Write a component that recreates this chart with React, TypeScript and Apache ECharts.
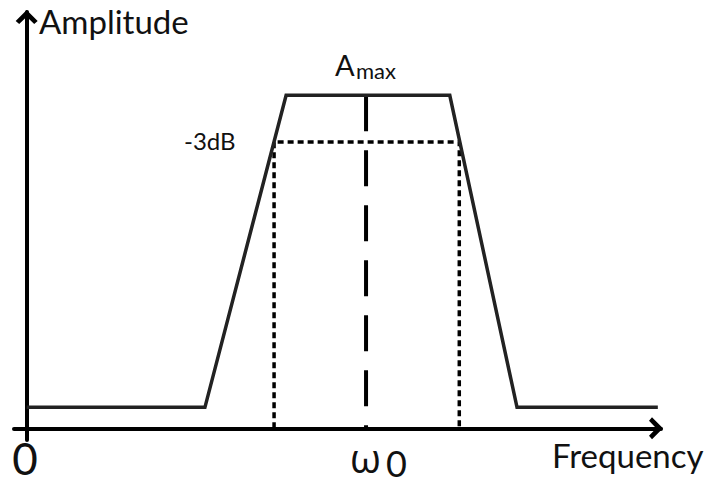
import React, { useEffect, useRef } from "react";
import * as echarts from "echarts";

// Frequency (arbitrary units) and amplitude (relative to A_max) of the band-pass response
const responseFreq = [0, 28.1, 40.9, 66.7, 77.3, 99.5];
const responseAmp = [0.063, 0.063, 1.0, 1.0, 0.063, 0.063];

// -3 dB band edges
const bandFreq = [39.0, 39.0, 68.2, 68.2];
const bandAmp = [0, 0.86, 0.86, 0];

// centre frequency marker
const centerFreq = [53.5, 53.5];
const centerAmp = [1.0, 0];

const FONT = "Lato, 'Open Sans', sans-serif";
const GREEK = "'Open Sans', 'Noto Sans', sans-serif";
const ARROW = "path://M0,11 L11,0 L22,11 L18.5,14 L11,6.8 L3.5,14 Z";

export default function App() {
  const ref = useRef<HTMLDivElement>(null);
  useEffect(() => {
    if (!ref.current) return;
    const chart = echarts.init(ref.current, null, { renderer: "svg" });
    const zip = (a: number[], b: number[]) => a.map((v, i) => [v, b[i]]);
    const axisLine = {
      show: true,
      onZero: true,
      lineStyle: { color: "#000", width: 4 },
      symbol: ["none", ARROW],
      symbolSize: [22, 14],
      symbolOffset: [0, -5],
    };
    chart.setOption({
      animation: false,
      backgroundColor: "#ffffff",
      grid: { left: 14, right: 50, top: 12, bottom: 44 },
      xAxis: {
        type: "value",
        min: -2,
        max: 100,
        axisLine,
        axisTick: { show: false },
        axisLabel: { show: false },
        splitLine: { show: false },
      },
      yAxis: {
        type: "value",
        min: -0.035,
        max: 1.25,
        axisLine,
        axisTick: { show: false },
        axisLabel: { show: false },
        splitLine: { show: false },
      },
      series: [
        {
          type: "line",
          data: zip(responseFreq, responseAmp),
          showSymbol: false,
          symbol: "none",
          lineStyle: { color: "#222", width: 3.5, join: "miter" },
          z: 3,
        },
        {
          type: "line",
          data: zip(bandFreq, bandAmp),
          showSymbol: false,
          symbol: "none",
          lineStyle: { color: "#000", width: 3.5, type: [6, 4] },
          z: 2,
        },
        {
          type: "line",
          data: zip(centerFreq, centerAmp),
          showSymbol: false,
          symbol: "none",
          lineStyle: { color: "#000", width: 4, type: [36, 19] },
          z: 2,
        },
      ],
      graphic: [
        { type: "text", x: 39, y: 21, style: { text: "Amplitude", font: `33px ${FONT}`, fill: "#111", verticalAlign: "middle" } },
        { type: "text", x: 552, y: 455, style: { text: "Frequency", font: `33px ${FONT}`, fill: "#111", verticalAlign: "middle" } },
        { type: "text", x: 25, y: 458, style: { text: "0", font: `44px ${FONT}`, fill: "#111", align: "center", verticalAlign: "middle" } },
        { type: "text", x: 350, y: 457, style: { text: "ω", font: `40px ${GREEK}`, fill: "#111", verticalAlign: "middle" } },
        { type: "text", x: 386, y: 463, style: { text: "0", font: `36px ${FONT}`, fill: "#111", verticalAlign: "middle" } },
        { type: "text", x: 335, y: 64, style: { text: "A", font: `29px ${FONT}`, fill: "#111", verticalAlign: "middle" } },
        { type: "text", x: 356, y: 70, style: { text: "max", font: `22px ${FONT}`, fill: "#111", verticalAlign: "middle" } },
        { type: "text", x: 184, y: 140, style: { text: "-3dB", font: `24px ${FONT}`, fill: "#111", verticalAlign: "middle" } },
      ],
    });
    return () => chart.dispose();
  }, []);
  return <div ref={ref} style={{ width: 711, height: 484, position: "fixed", left: 0, top: 0 }} />;
}
